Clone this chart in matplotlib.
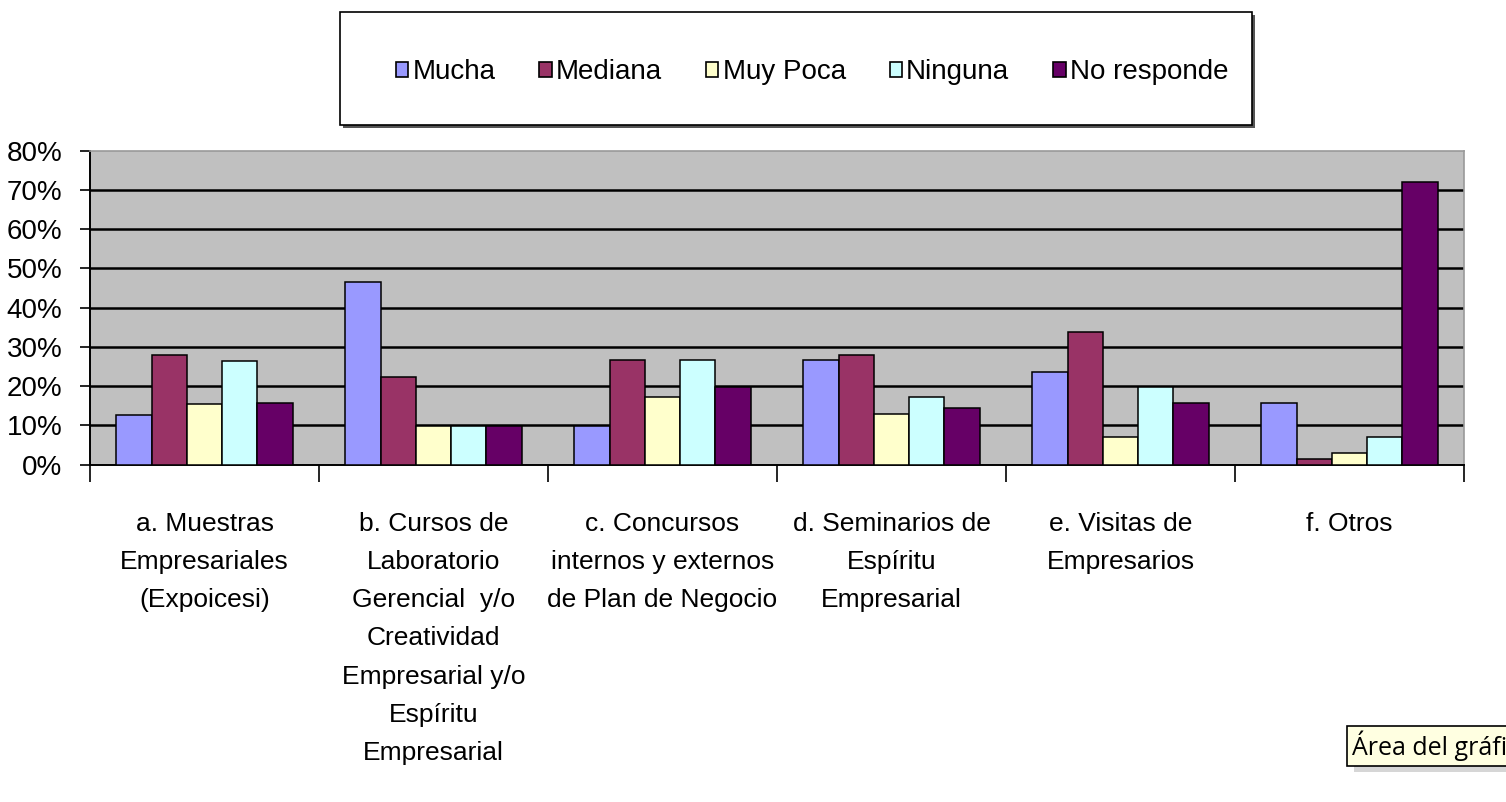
import matplotlib
matplotlib.use("Agg")
import matplotlib.pyplot as plt
import numpy as np
from matplotlib import font_manager
from matplotlib.patches import Rectangle, Patch

names = {f.name for f in font_manager.fontManager.ttflist}
narrow = "Liberation Sans Narrow" if "Liberation Sans Narrow" in names else "Liberation Sans"
plt.rcParams['font.family'] = [narrow, 'DejaVu Sans']

categories = [
    "a. Muestras\nEmpresariales\n(Expoicesi)",
    "b. Cursos de\nLaboratorio\nGerencial  y/o\nCreatividad\nEmpresarial y/o\nEspíritu\nEmpresarial",
    "c. Concursos\ninternos y externos\nde Plan de Negocio",
    "d. Seminarios de\nEspíritu\nEmpresarial",
    "e. Visitas de\nEmpresarios",
    "f. Otros",
]
series = ["Mucha", "Mediana", "Muy Poca", "Ninguna", "No responde"]
mucha      = [12.6, 46.6,  9.8, 26.7, 23.7, 15.6]
mediana    = [27.9, 22.2, 26.7, 27.9, 33.8,  1.3]
muy_poca   = [15.4,  9.8, 17.1, 12.8,  6.9,  2.9]
ninguna    = [26.5,  9.8, 26.7, 17.1, 19.7,  6.9]
no_responde= [15.7,  9.8, 19.7, 14.3, 15.6, 72.1]
values = [mucha, mediana, muy_poca, ninguna, no_responde]
colors = ["#9999FF", "#993366", "#FFFFCC", "#CCFFFF", "#660066"]
yticks = [0, 10, 20, 30, 40, 50, 60, 70, 80]

W, H = 1506, 802
fig = plt.figure(figsize=(W/100, H/100), dpi=100)
fig.patch.set_facecolor("white")

left, right, top, bottom = 90, 1464, 150.7, 464.5
ax = fig.add_axes([left/W, 1-bottom/H, (right-left)/W, (bottom-top)/H])
ax.set_facecolor("#C0C0C0")

x = np.arange(len(categories))
bw = 1/6.5
for i, (vals, c, name) in enumerate(zip(values, colors, series)):
    ax.bar(x + (i-2)*bw, vals, width=bw, color=c, edgecolor="black", linewidth=1.1, zorder=3, label=name)

ax.set_xlim(-0.5, len(categories)-0.5)
ax.set_ylim(0, 80)
ax.set_yticks(yticks)
ax.set_yticklabels([f"{v}%" for v in yticks], fontsize=20)
for v in yticks[1:-1]:
    ax.axhline(v, color="black", linewidth=1.8, zorder=1)

ax.set_xticks(np.arange(-0.5, len(categories)), minor=False)
ax.set_xticklabels([])
ax.set_xticks(x, minor=True)
ax.set_xticklabels(categories, minor=True, fontsize=19, linespacing=1.75)
ax.tick_params(axis="x", which="major", length=12, width=1.2, direction="out")
ax.tick_params(axis="x", which="minor", length=0, pad=34)
ax.tick_params(axis="y", length=7, width=1.2, direction="out", pad=13)

for s in ["left", "bottom"]:
    ax.spines[s].set_color("black")
    ax.spines[s].set_linewidth(1.4)
for s in ["top", "right"]:
    ax.spines[s].set_color("#999999")
    ax.spines[s].set_linewidth(1.2)

# legend box
lx0, lx1, ly0, ly1 = 340, 1252, 12, 125
fig.patches.append(Rectangle(((lx0+3)/W, 1-(ly1+3)/H), (lx1-lx0)/W, (ly1-ly0)/H,
                             transform=fig.transFigure, facecolor="#555555", edgecolor="none", zorder=0))
fig.patches.append(Rectangle((lx0/W, 1-ly1/H), (lx1-lx0)/W, (ly1-ly0)/H,
                             transform=fig.transFigure, facecolor="white", edgecolor="black", linewidth=1.2, zorder=1))
handles = [Patch(facecolor=c, edgecolor="black", linewidth=1.2) for c in colors]
leg = fig.legend(handles, series, loc="center", bbox_to_anchor=(812/W, 1-72/H),
                 ncol=5, frameon=False, fontsize=20, handlelength=0.45, handleheight=0.45,
                 handletextpad=0.15, columnspacing=1.58)

# tooltip with shadow (shadow drawn as a plain patch)
fig.patches.append(Rectangle((1354/W, 1-772/H), 160/W, 34/H, transform=fig.transFigure,
                             facecolor="#BBBBBB", edgecolor="none", alpha=0.6, zorder=0))
fig.text(1352/W, 1-746/H, "Área del gráfico", fontsize=18, family=["Open Sans", "DejaVu Sans"],
         color="black", va="center", ha="left",
         bbox=dict(boxstyle="square,pad=0.2", facecolor="#FFFFE1", edgecolor="black", linewidth=1.2))

fig.savefig("out.png", dpi=100)
